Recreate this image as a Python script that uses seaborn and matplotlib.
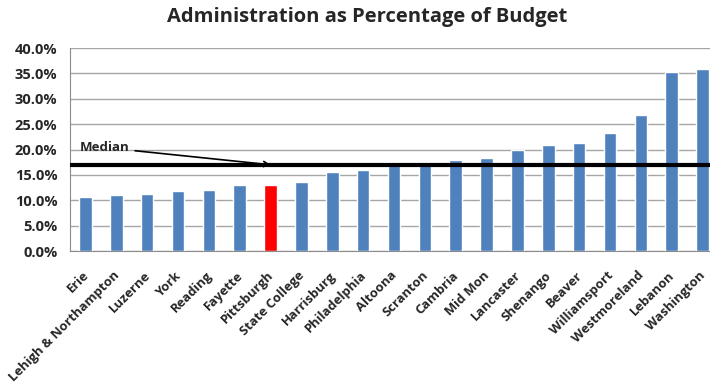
import matplotlib
matplotlib.use("Agg")
import matplotlib.pyplot as plt
import matplotlib.transforms as mtransforms
import seaborn as sns
import pandas as pd
from matplotlib.ticker import PercentFormatter, FixedLocator

# data (percent of budget)
cities = ["Erie", "Lehigh & Northampton", "Luzerne", "York", "Reading", "Fayette",
          "Pittsburgh", "State College", "Harrisburg", "Philadelphia", "Altoona",
          "Scranton", "Cambria", "Mid Mon", "Lancaster", "Shenango", "Beaver",
          "Williamsport", "Westmoreland", "Lebanon", "Washington"]
admin_pct = [10.7, 11.1, 11.3, 11.8, 12.0, 13.0, 13.1, 13.7, 15.6, 16.0, 17.0,
             17.5, 17.9, 18.3, 20.0, 20.9, 21.3, 23.3, 26.9, 35.2, 35.9]
median_pct = 17.0
highlight = "Pittsburgh"

df = pd.DataFrame({"city": cities, "pct": admin_pct})
df["grp"] = ["hl" if c == highlight else "other" for c in cities]

sns.set_style("white")
plt.rcParams["font.family"] = ["Open Sans", "DejaVu Sans"]

fig = plt.figure(figsize=(7.1, 3.85), dpi=100)
ax = fig.add_axes([0.0986, 0.348, 0.9127, 0.527])

sns.barplot(data=df, x="city", y="pct", hue="grp", dodge=False, width=0.41,
            palette={"other": "#4F81BD", "hl": "#FF0000"}, saturation=1,
            legend=False, ax=ax, zorder=3)

ax.set_ylim(0, 40)
ax.set_xlim(-0.5, len(cities) - 0.5)
ax.set_yticks(range(0, 41, 5))
ax.yaxis.set_major_formatter(PercentFormatter(decimals=1))
ax.grid(axis="y", color="#a6a6a6", lw=1, zorder=0)
ax.set_xlabel("")
ax.set_ylabel("")

for s in ["top", "right"]:
    ax.spines[s].set_visible(False)
ax.spines["left"].set_color("#8c8c8c")
ax.spines["bottom"].set_color("#8c8c8c")

ax.set_xticks(range(len(cities)))
ax.set_xticklabels(cities, rotation=45, ha="right", va="center",
                   rotation_mode="anchor", fontsize=9.4, fontweight="bold")
ax.tick_params(axis="x", length=0, pad=9)
# nudge labels so their ends sit under the bars, like Excel does
shift = mtransforms.ScaledTranslation(1 / 100, -10 / 100, fig.dpi_scale_trans)
for t in ax.get_xticklabels():
    t.set_transform(t.get_transform() + shift)
ax.xaxis.set_minor_locator(FixedLocator([i - 0.5 for i in range(len(cities) + 1)]))
ax.tick_params(axis="x", which="minor", length=5, color="#8c8c8c")
ax.tick_params(axis="y", labelsize=10.5, length=0, pad=9)
for t in ax.get_yticklabels():
    t.set_fontweight("bold")

ax.axhline(median_pct, color="black", lw=3, zorder=4)
ax.annotate("Median", xy=(6.0, median_pct), xytext=(-0.2, 20.4),
            fontsize=9.5, fontweight="bold", va="center", ha="left",
            arrowprops=dict(arrowstyle="->", color="black", lw=1.2,
                            shrinkA=2, shrinkB=0), zorder=5)

fig.text(0.517, 0.955, "Administration as Percentage of Budget", ha="center",
         va="center", fontsize=14.5, fontweight="bold")

fig.savefig("out.png", dpi=100)
